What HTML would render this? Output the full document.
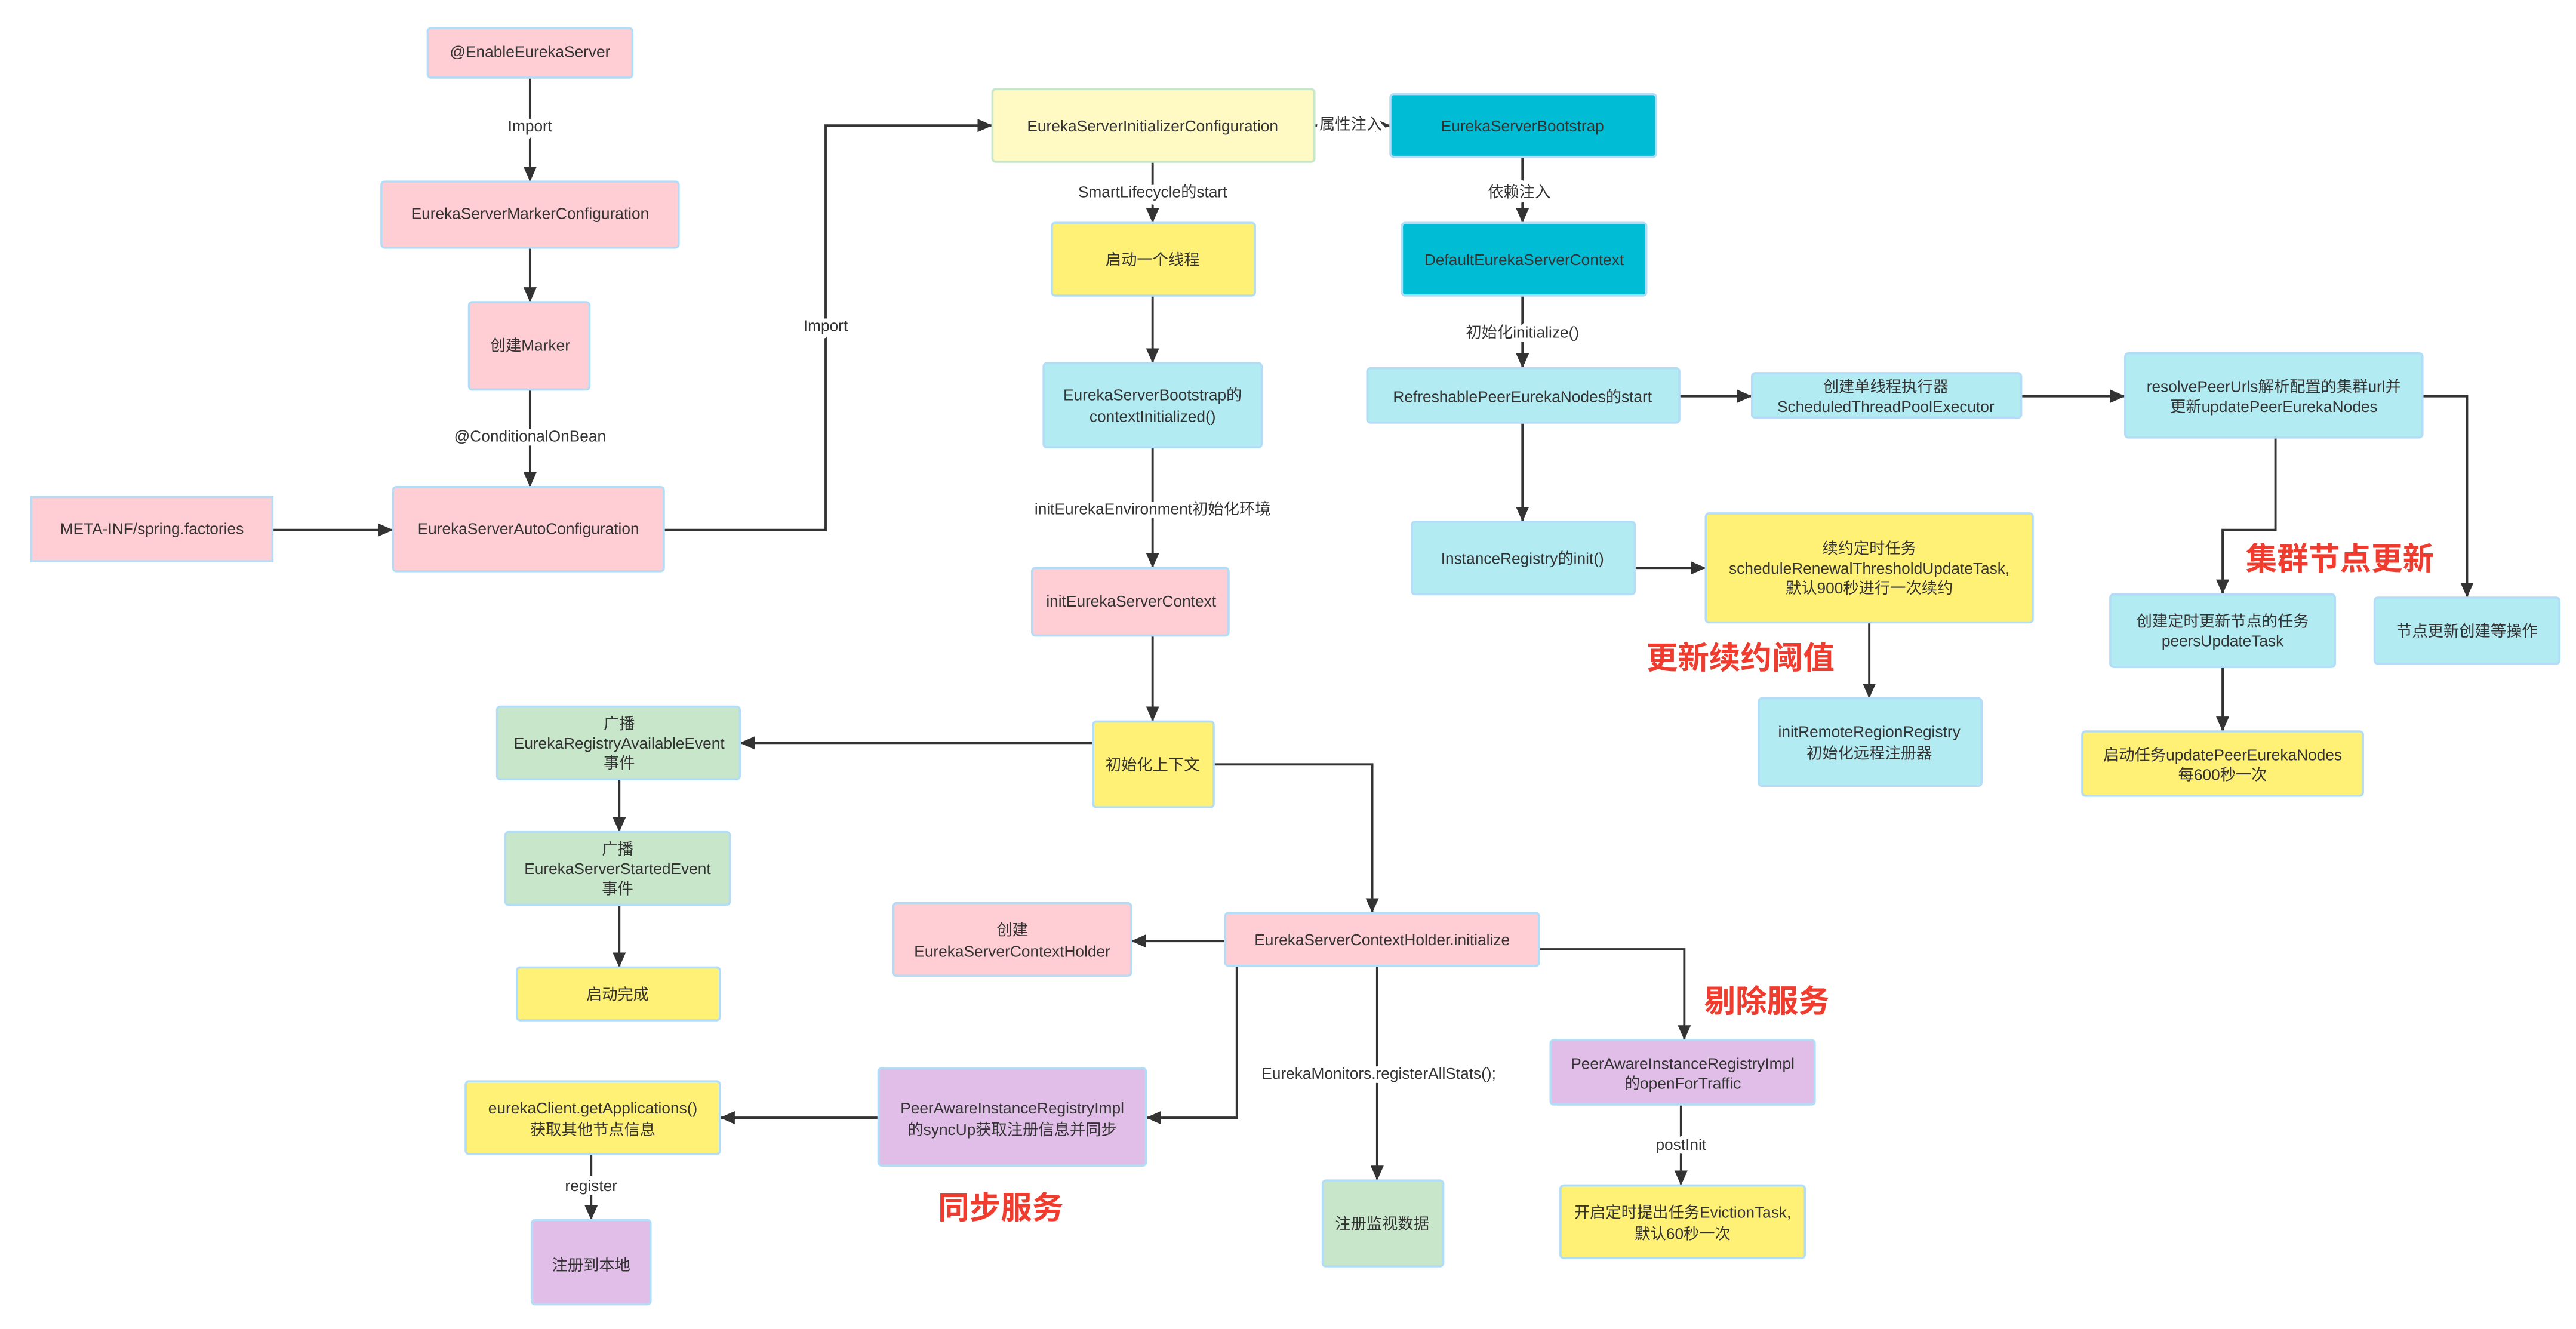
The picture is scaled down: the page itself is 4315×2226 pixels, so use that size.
<!DOCTYPE html>
<html><head><meta charset="utf-8">
<style>
html,body{margin:0;padding:0;background:#fff;}
svg{display:block;}
text{font-family:"Liberation Sans","Noto Sans CJK SC",sans-serif;font-size:9.5px;fill:#333;text-anchor:middle;dominant-baseline:middle;}
.lbl{paint-order:stroke;stroke:#fff;stroke-width:5px;stroke-linejoin:round;}
.red{font-size:19px;font-weight:bold;fill:#F03C2E;text-anchor:start;}
line,polyline{stroke:#333;stroke-width:1.4;fill:none;}
rect{stroke:#B3DDF7;stroke-width:1.3;}
</style></head><body>
<svg width="4315" height="2226" viewBox="0 0 1560 805" preserveAspectRatio="none" xmlns="http://www.w3.org/2000/svg">
<defs>
<marker id="a" markerUnits="userSpaceOnUse" markerWidth="9" markerHeight="8" refX="9" refY="4" orient="auto"><path d="M0,0 L9,4 L0,8 z" fill="#333"/></marker>
</defs>
<rect width="1560" height="805" fill="#fff" style="stroke:none"/>

<!-- connectors -->
<g marker-end="url(#a)">
<line x1="321" y1="47" x2="321" y2="110"/>
<line x1="321" y1="150" x2="321" y2="183"/>
<line x1="321" y1="236" x2="321" y2="295"/>
<line x1="165" y1="321" x2="238" y2="321"/>
<polyline points="402,321 500,321 500,76 601,76"/>
<line x1="796" y1="76" x2="842" y2="76"/>
<line x1="698" y1="98" x2="698" y2="135"/>
<line x1="922" y1="95" x2="922" y2="135"/>
<line x1="698" y1="179" x2="698" y2="220"/>
<line x1="698" y1="271" x2="698" y2="344"/>
<line x1="698" y1="385" x2="698" y2="437"/>
<line x1="662" y1="450" x2="448" y2="450"/>
<polyline points="735,463 831,463 831,553"/>
<line x1="922" y1="179" x2="922" y2="223"/>
<line x1="1017" y1="240" x2="1061" y2="240"/>
<line x1="1224" y1="240" x2="1287" y2="240"/>
<polyline points="1467,240 1494,240 1494,362"/>
<polyline points="1378,265 1378,321 1346,321 1346,360"/>
<line x1="1346" y1="404" x2="1346" y2="443"/>
<line x1="922" y1="256" x2="922" y2="316"/>
<line x1="990" y1="344" x2="1033" y2="344"/>
<line x1="1132" y1="377" x2="1132" y2="423"/>
<line x1="375" y1="472" x2="375" y2="504"/>
<line x1="375" y1="548" x2="375" y2="586"/>
<line x1="742" y1="570" x2="685" y2="570"/>
<polyline points="932,575 1020,575 1020,630"/>
<line x1="1018" y1="669" x2="1018" y2="718"/>
<line x1="834" y1="585" x2="834" y2="715"/>
<polyline points="749,585 749,677 694,677"/>
<line x1="532" y1="677" x2="436" y2="677"/>
<line x1="358" y1="699" x2="358" y2="739"/>
</g>

<!-- connector labels -->
<text class="lbl" x="321" y="77">Import</text>
<text class="lbl" x="321" y="265">@ConditionalOnBean</text>
<text class="lbl" x="500" y="198">Import</text>
<text class="lbl" x="818" y="76">属性注入</text>
<text class="lbl" x="698" y="117">SmartLifecycle的start</text>
<text class="lbl" x="920" y="117">依赖注入</text>
<text class="lbl" x="698" y="309">initEurekaEnvironment初始化环境</text>
<text class="lbl" x="922" y="202">初始化initialize()</text>
<text class="lbl" x="1018" y="694">postInit</text>
<text class="lbl" x="835" y="651">EurekaMonitors.registerAllStats();</text>
<text class="lbl" x="358" y="719">register</text>

<!-- boxes -->
<g>
<rect x="259" y="17" width="124" height="30" rx="2" fill="#FFCDD4"/>
<text x="321" y="32">@EnableEurekaServer</text>
<rect x="231" y="110" width="180" height="40" rx="2" fill="#FFCDD4"/>
<text x="321" y="130">EurekaServerMarkerConfiguration</text>
<rect x="284" y="183" width="73" height="53" rx="2" fill="#FFCDD4"/>
<text x="321" y="210">创建Marker</text>
<rect x="238" y="295" width="164" height="51" rx="2" fill="#FFCDD4"/>
<text x="320" y="321">EurekaServerAutoConfiguration</text>
<rect x="19" y="301" width="146" height="39" rx="0" fill="#FFCDD4"/>
<text x="92" y="321">META-INF/spring.factories</text>

<rect x="601" y="54" width="195" height="44" rx="2" fill="#FFF9C4" style="stroke:#C8E6C9"/>
<text x="698" y="77">EurekaServerInitializerConfiguration</text>
<rect x="842" y="57" width="161" height="38" rx="2" fill="#00BCD4"/>
<text x="922" y="77">EurekaServerBootstrap</text>
<rect x="849" y="135" width="148" height="44" rx="2" fill="#00BCD4"/>
<text x="923" y="158">DefaultEurekaServerContext</text>
<rect x="637" y="135" width="123" height="44" rx="2" fill="#FFF176"/>
<text x="698" y="158">启动一个线程</text>
<rect x="632" y="220" width="132" height="51" rx="2" fill="#B2EBF2"/>
<text x="698" y="240">EurekaServerBootstrap的</text>
<text x="698" y="253">contextInitialized()</text>
<rect x="625" y="344" width="119" height="41" rx="2" fill="#FFCDD4"/>
<text x="685" y="365">initEurekaServerContext</text>
<rect x="662" y="437" width="73" height="52" rx="2" fill="#FFF176"/>
<text x="698" y="464">初始化上下文</text>

<rect x="828" y="223" width="189" height="33" rx="2" fill="#B2EBF2"/>
<text x="922" y="241">RefreshablePeerEurekaNodes的start</text>
<rect x="1061" y="226" width="163" height="27" rx="2" fill="#B2EBF2"/>
<text x="1142" y="235">创建单线程执行器</text>
<text x="1142" y="247">ScheduledThreadPoolExecutor</text>
<rect x="1287" y="214" width="180" height="51" rx="2" fill="#B2EBF2"/>
<text x="1377" y="235">resolvePeerUrls解析配置的集群url并</text>
<text x="1377" y="247">更新updatePeerEurekaNodes</text>
<rect x="855" y="316" width="135" height="44" rx="2" fill="#B2EBF2"/>
<text x="922" y="339">InstanceRegistry的init()</text>
<rect x="1033" y="311" width="198" height="66" rx="2" fill="#FFF176"/>
<text x="1132" y="333">续约定时任务</text>
<text x="1132" y="345">scheduleRenewalThresholdUpdateTask,</text>
<text x="1132" y="357">默认900秒进行一次续约</text>
<rect x="1065" y="423" width="135" height="53" rx="2" fill="#B2EBF2"/>
<text x="1132" y="444">initRemoteRegionRegistry</text>
<text x="1132" y="457">初始化远程注册器</text>
<rect x="1278" y="360" width="136" height="44" rx="2" fill="#B2EBF2"/>
<text x="1346" y="377">创建定时更新节点的任务</text>
<text x="1346" y="389">peersUpdateTask</text>
<rect x="1438" y="362" width="112" height="40" rx="2" fill="#B2EBF2"/>
<text x="1494" y="383">节点更新创建等操作</text>
<rect x="1261" y="443" width="170" height="39" rx="2" fill="#FFF176"/>
<text x="1346" y="458">启动任务updatePeerEurekaNodes</text>
<text x="1346" y="470">每600秒一次</text>

<rect x="301" y="428" width="147" height="44" rx="2" fill="#C8E6C9"/>
<text x="375" y="439">广播</text>
<text x="375" y="451">EurekaRegistryAvailableEvent</text>
<text x="375" y="463">事件</text>
<rect x="306" y="504" width="136" height="44" rx="2" fill="#C8E6C9"/>
<text x="374" y="515">广播</text>
<text x="374" y="527">EurekaServerStartedEvent</text>
<text x="374" y="539">事件</text>
<rect x="313" y="586" width="123" height="32" rx="2" fill="#FFF176"/>
<text x="374" y="603">启动完成</text>

<rect x="541" y="547" width="144" height="44" rx="2" fill="#FFCDD4"/>
<text x="613" y="564">创建</text>
<text x="613" y="577">EurekaServerContextHolder</text>
<rect x="742" y="553" width="190" height="32" rx="2" fill="#FFCDD4"/>
<text x="837" y="570">EurekaServerContextHolder.initialize</text>
<rect x="939" y="630" width="160" height="39" rx="2" fill="#E1BEE7"/>
<text x="1019" y="645">PeerAwareInstanceRegistryImpl</text>
<text x="1019" y="657">的openForTraffic</text>
<rect x="945" y="718" width="148" height="44" rx="2" fill="#FFF176"/>
<text x="1019" y="735">开启定时提出任务EvictionTask,</text>
<text x="1019" y="748">默认60秒一次</text>
<rect x="801" y="715" width="73" height="52" rx="2" fill="#C8E6C9"/>
<text x="837" y="742">注册监视数据</text>
<rect x="532" y="647" width="162" height="59" rx="2" fill="#E1BEE7"/>
<text x="613" y="672">PeerAwareInstanceRegistryImpl</text>
<text x="613" y="685">的syncUp获取注册信息并同步</text>
<rect x="282" y="655" width="154" height="44" rx="2" fill="#FFF176"/>
<text x="359" y="672">eurekaClient.getApplications()</text>
<text x="359" y="685">获取其他节点信息</text>
<rect x="322" y="739" width="72" height="51" rx="2" fill="#E1BEE7"/>
<text x="358" y="767">注册到本地</text>
</g>

<!-- red annotations -->
<text class="red" x="1360" y="340">集群节点更新</text>
<text class="red" x="997" y="400">更新续约阈值</text>
<text class="red" x="1032" y="608">剔除服务</text>
<text class="red" x="568" y="733">同步服务</text>
</svg>
</body></html>
